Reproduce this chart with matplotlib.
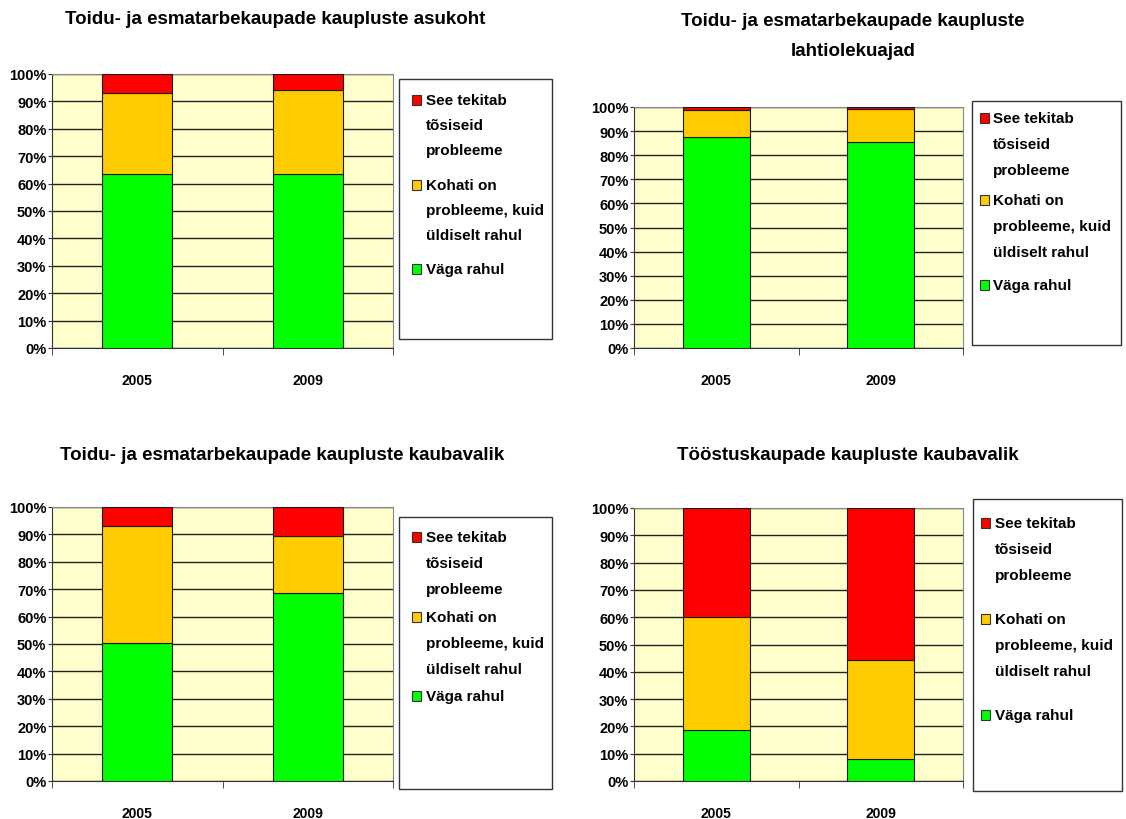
import matplotlib
matplotlib.use("Agg")
import matplotlib.pyplot as plt
from matplotlib.patches import Rectangle
from matplotlib.ticker import MultipleLocator, PercentFormatter

plt.rcParams['font.family'] = ['Liberation Sans', 'DejaVu Sans']
plt.rcParams['font.weight'] = 'bold'

W, H = 1126, 820

years = ["2005", "2009"]
series = ["Väga rahul", "Kohati on\nprobleeme, kuid\nüldiselt rahul", "See tekitab\ntõsiseid\nprobleeme"]
colors = ["#00FF00", "#FFCC00", "#FF0000"]

titles = [
    "Toidu- ja esmatarbekaupade kaupluste asukoht",
    "Toidu- ja esmatarbekaupade kaupluste\nlahtiolekuajad",
    "Toidu- ja esmatarbekaupade kaupluste kaubavalik",
    "Tööstuskaupade kaupluste kaubavalik",
]

# osakaalud (%) : väga rahul, kohati probleeme, tõsised probleemid
asukoht_rahul = [63.6, 63.6]
asukoht_kohati = [29.5, 30.6]
asukoht_probleem = [6.9, 5.8]

lahtiolek_rahul = [87.4, 85.4]
lahtiolek_kohati = [11.5, 13.9]
lahtiolek_probleem = [1.1, 0.7]

toidu_valik_rahul = [50.2, 68.7]
toidu_valik_kohati = [42.9, 20.7]
toidu_valik_probleem = [6.9, 10.6]

toostus_valik_rahul = [18.6, 7.9]
toostus_valik_kohati = [41.6, 36.3]
toostus_valik_probleem = [39.8, 55.8]

andmed = [
    (asukoht_rahul, asukoht_kohati, asukoht_probleem),
    (lahtiolek_rahul, lahtiolek_kohati, lahtiolek_probleem),
    (toidu_valik_rahul, toidu_valik_kohati, toidu_valik_probleem),
    (toostus_valik_rahul, toostus_valik_kohati, toostus_valik_probleem),
]

# paigutus pikslites: (vasak, parem, ülemine, alumine)
teljed = [(52, 393, 75, 349), (634, 963, 108, 349), (52, 393, 508, 782), (634, 963, 509, 782)]
pealkirjad_pos = [(275, 20), (853, 36), (282, 455), (848, 455)]
legendid = [(399, 552, 80, 340), (972, 1121, 102, 346), (399, 552, 518, 790), (973, 1122, 500, 792)]
legendi_read = [(101, 186, 270, 25), (119, 201, 286, 26), (538, 618, 697, 26), (524, 620, 716, 26)]
legendi_nihe = [(13, 27), (8, 21), (13, 27), (8, 22)]


def fx(x):
    return x / W


def fy(y):
    return 1 - y / H


fig = plt.figure(figsize=(W / 100, H / 100), dpi=100)
fig.patch.set_facecolor("white")

for i in range(4):
    l, r, t, b = teljed[i]
    ax = fig.add_axes([fx(l), fy(b), (r - l) / W, (b - t) / H])
    ax.set_facecolor("#FFFFCC")
    x = range(len(years))
    alus = [0, 0]
    for vals, col in zip(andmed[i], colors):
        ax.bar(x, vals, bottom=alus, width=0.41, color=col, edgecolor="#1a1a1a",
               linewidth=0.8, zorder=3)
        alus = [a + v for a, v in zip(alus, vals)]
    ax.set_xlim(-0.5, 1.5)
    ax.set_ylim(0, 100)
    ax.yaxis.set_major_locator(MultipleLocator(10))
    ax.yaxis.set_major_formatter(PercentFormatter(decimals=0))
    ax.grid(axis="y", color="#222222", linewidth=1, zorder=1)
    ax.set_xticks([0, 1])
    ax.set_xticklabels(years, fontsize=10, fontweight="bold")
    ax.set_xticks([-0.5, 0.5, 1.5], minor=True)
    ax.tick_params(axis="x", which="major", length=0, pad=18)
    ax.tick_params(axis="x", which="minor", length=5, direction="out", color="#333333")
    ax.tick_params(axis="y", length=3, color="#333333", labelsize=10.5, pad=1)
    for lbl in ax.get_yticklabels():
        lbl.set_fontweight("bold")
    for s in ["top", "right"]:
        ax.spines[s].set_color("#888888")
    ax.spines["left"].set_color("#333333")
    ax.spines["bottom"].set_color("#333333")

    tx, ty = pealkirjad_pos[i]
    fig.text(fx(tx), fy(ty), titles[i], ha="center", va="center", fontsize=13.5,
             fontweight="bold", linespacing=2.0)

    # legend
    ll, lr, lt, lb = legendid[i]
    px, tx0 = legendi_nihe[i]
    fig.patches.append(Rectangle((fx(ll), fy(lb)), (lr - ll) / W, (lb - lt) / H,
                                 transform=fig.transFigure, facecolor="white",
                                 edgecolor="#333333", linewidth=1))
    y_red, y_yel, y_grn, samm = legendi_read[i]
    for silt, col, y0 in zip(series[::-1], colors[::-1], [y_red, y_yel, y_grn]):
        fig.patches.append(Rectangle((fx(ll + px), fy(y0 + 5)), 9 / W, 10 / H,
                                     transform=fig.transFigure, facecolor=col,
                                     edgecolor="#333333", linewidth=0.8))
        for k, rida in enumerate(silt.split("\n")):
            fig.text(fx(ll + tx0), fy(y0 + k * samm), rida, ha="left", va="center",
                     fontsize=11, fontweight="bold")

fig.savefig("out.png", dpi=100)
